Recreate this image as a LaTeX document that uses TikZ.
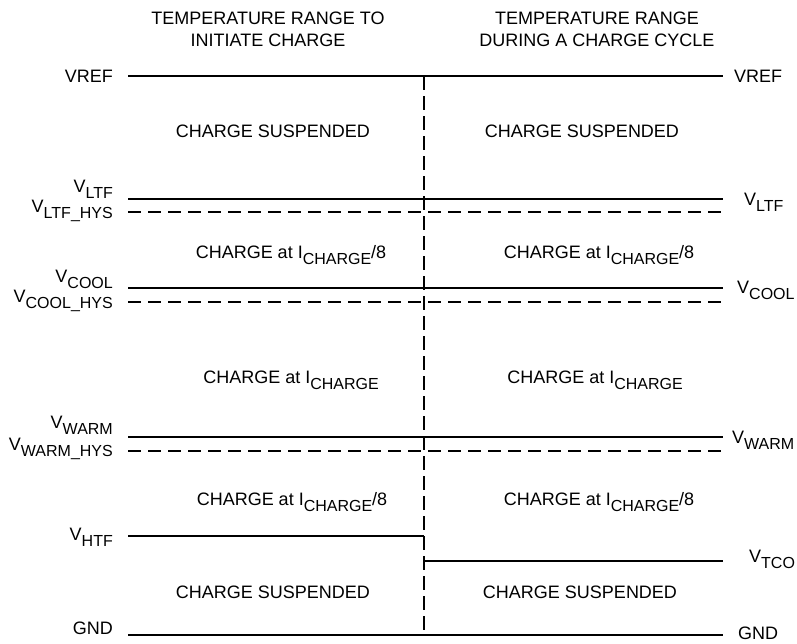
\documentclass[tikz,border=0pt]{standalone}
\usepackage{fontspec}
\setmainfont{Liberation Sans}
\newcommand{\sbs}[1]{\raisebox{-6pt}{\fontsize{16}{16}\selectfont #1}}

\begin{document}
\begin{tikzpicture}[x=1pt, y=-1pt,
    every node/.style={font=\fontsize{18}{22}\selectfont, inner sep=0pt},
    level/.style={line width=1.2pt},
    hyslevel/.style={line width=1.2pt, dash pattern=on 13pt off 7pt},
    divider/.style={line width=1.2pt, dash pattern=on 14pt off 6pt}]
    \useasboundingbox (0,0) rectangle (797,643);

    % Headings
    \node[align=center] (headinit) at (268,29.5) {TEMPERATURE RANGE TO\\INITIATE CHARGE};
    \node[align=center] (headcycle) at (597,29.5) {TEMPERATURE RANGE\\DURING A CHARGE CYCLE};

    % Level end points
    \coordinate (vrefL) at (128,76);  \coordinate (vrefR) at (723,76);
    \coordinate (ltfL) at (128,199);  \coordinate (ltfR) at (723,199);
    \coordinate (ltfhL) at (128,212); \coordinate (ltfhR) at (723,212);
    \coordinate (coolL) at (128,288); \coordinate (coolR) at (723,288);
    \coordinate (coolhL) at (128,302); \coordinate (coolhR) at (723,302);
    \coordinate (warmL) at (128,437); \coordinate (warmR) at (723,437);
    \coordinate (warmhL) at (128,451); \coordinate (warmhR) at (723,451);
    \coordinate (htfL) at (128,536);  \coordinate (htfD) at (424,536);
    \coordinate (tcoD) at (424,561);  \coordinate (tcoR) at (723,561);
    \coordinate (gndL) at (128,635);  \coordinate (gndR) at (723,635);
    \coordinate (divT) at (424,76);   \coordinate (divB) at (424,635);

    % Solid levels
    \draw[level] (vrefL) -- (vrefR);
    \draw[level] (ltfL) -- (ltfR);
    \draw[level] (coolL) -- (coolR);
    \draw[level] (warmL) -- (warmR);
    \draw[level] (htfL) -- (htfD);
    \draw[level] (tcoD) -- (tcoR);
    \draw[level] (gndL) -- (gndR);

    % Hysteresis levels
    \draw[hyslevel] (ltfhL) -- (ltfhR);
    \draw[hyslevel] (coolhL) -- (coolhR);
    \draw[hyslevel] (warmhL) -- (warmhR);

    % Divider
    \draw[divider] (divT) -- (divB);

    % Left labels
    \node[anchor=east] (vrefl) at (113,76) {VREF};
    \node[anchor=base east] (ltfl) at (113,192) {V\sbs{LTF}};
    \node[anchor=base east] (ltfhl) at (113,212) {V\sbs{LTF\_HYS}};
    \node[anchor=base east] (cooll) at (113,282) {V\sbs{COOL}};
    \node[anchor=base east] (coolhl) at (113,302) {V\sbs{COOL\_HYS}};
    \node[anchor=base east] (warml) at (113,428) {V\sbs{WARM}};
    \node[anchor=base east] (warmhl) at (113,450) {V\sbs{WARM\_HYS}};
    \node[anchor=base east] (htfl) at (113,540) {V\sbs{HTF}};
    \node[anchor=base east] (gndl) at (113,634) {GND};

    % Right labels
    \node[anchor=west] (vrefr) at (734,76) {VREF};
    \node[anchor=base west] (ltfr) at (744,205) {V\sbs{LTF}};
    \node[anchor=base west] (coolr) at (737,293) {V\sbs{COOL}};
    \node[anchor=base west] (warmr) at (732,443) {V\sbs{WARM}};
    \node[anchor=base west] (tcor) at (749,562) {V\sbs{TCO}};
    \node[anchor=base west] (gndr) at (738,639) {GND};

    % Regions, initiate charge
    \node[anchor=base] (susinitA) at (273,137) {CHARGE SUSPENDED};
    \node[anchor=base] (coolinit) at (291,258) {CHARGE at I\sbs{CHARGE}/8};
    \node[anchor=base] (fullinit) at (291,383) {CHARGE at I\sbs{CHARGE}};
    \node[anchor=base] (warminit) at (292,505) {CHARGE at I\sbs{CHARGE}/8};
    \node[anchor=base] (susinitB) at (273,598) {CHARGE SUSPENDED};

    % Regions, charge cycle
    \node[anchor=base] (suscycA) at (582,137) {CHARGE SUSPENDED};
    \node[anchor=base] (coolcyc) at (599,258) {CHARGE at I\sbs{CHARGE}/8};
    \node[anchor=base] (fullcyc) at (595,383) {CHARGE at I\sbs{CHARGE}};
    \node[anchor=base] (warmcyc) at (599,505) {CHARGE at I\sbs{CHARGE}/8};
    \node[anchor=base] (suscycB) at (580,598) {CHARGE SUSPENDED};
\end{tikzpicture}
\end{document}
